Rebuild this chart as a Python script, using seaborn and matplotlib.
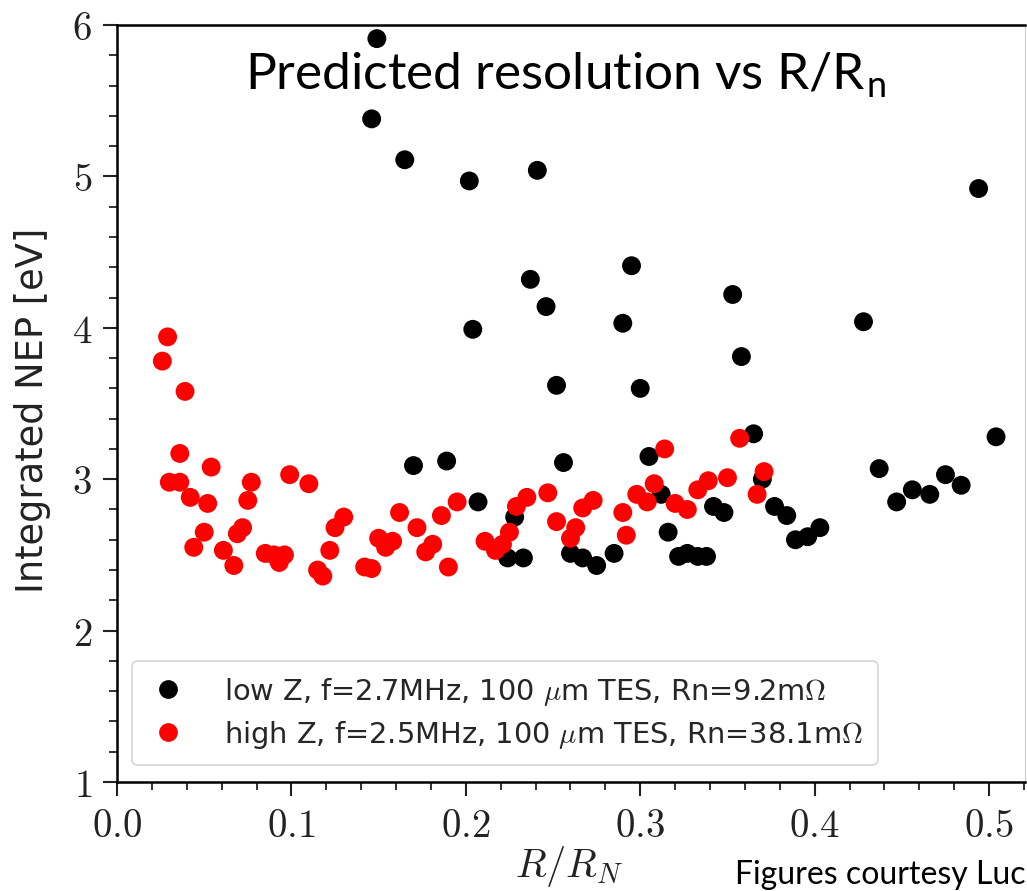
import matplotlib
matplotlib.use("Agg")
import matplotlib.pyplot as plt
import matplotlib.ticker as mticker
from matplotlib.lines import Line2D
import pandas as pd
import seaborn as sns

# low Z, f=2.7MHz (black)
low_x = [0.149, 0.146, 0.165, 0.202, 0.241, 0.204, 0.237, 0.246, 0.295, 0.290,
         0.252, 0.300, 0.353, 0.358, 0.494, 0.428, 0.504, 0.365, 0.170, 0.189,
         0.207, 0.256, 0.305, 0.228, 0.224, 0.233, 0.260, 0.267, 0.275, 0.285,
         0.312, 0.316, 0.322, 0.327, 0.333, 0.338, 0.342, 0.348, 0.370, 0.377,
         0.384, 0.389, 0.396, 0.403, 0.437, 0.447, 0.456, 0.466, 0.475, 0.484]
low_y = [5.91, 5.38, 5.11, 4.97, 5.04, 3.99, 4.32, 4.14, 4.41, 4.03,
         3.62, 3.60, 4.22, 3.81, 4.92, 4.04, 3.28, 3.30, 3.09, 3.12,
         2.85, 3.11, 3.15, 2.75, 2.48, 2.48, 2.51, 2.48, 2.43, 2.51,
         2.90, 2.65, 2.49, 2.51, 2.49, 2.49, 2.82, 2.78, 3.00, 2.82,
         2.76, 2.60, 2.62, 2.68, 3.07, 2.85, 2.93, 2.90, 3.03, 2.96]

# high Z, f=2.5MHz (red)
high_x = [0.029, 0.026, 0.039, 0.036, 0.054, 0.030, 0.036, 0.042, 0.052, 0.077,
          0.075, 0.099, 0.110, 0.050, 0.044, 0.061, 0.067, 0.072, 0.069, 0.085,
          0.090, 0.096, 0.093, 0.115, 0.118, 0.122, 0.125, 0.130, 0.142, 0.146,
          0.150, 0.158, 0.154, 0.162, 0.172, 0.177, 0.181, 0.186, 0.195, 0.190,
          0.211, 0.217, 0.221, 0.225, 0.229, 0.235, 0.247, 0.252, 0.263, 0.260,
          0.267, 0.273, 0.290, 0.292, 0.298, 0.304, 0.308, 0.314, 0.320, 0.327,
          0.333, 0.339, 0.350, 0.357, 0.371, 0.367]
high_y = [3.94, 3.78, 3.58, 3.17, 3.08, 2.98, 2.98, 2.88, 2.84, 2.98,
          2.86, 3.03, 2.97, 2.65, 2.55, 2.53, 2.43, 2.68, 2.64, 2.51,
          2.50, 2.50, 2.45, 2.40, 2.36, 2.53, 2.68, 2.75, 2.42, 2.41,
          2.61, 2.59, 2.55, 2.78, 2.68, 2.52, 2.57, 2.76, 2.85, 2.42,
          2.59, 2.53, 2.57, 2.65, 2.82, 2.88, 2.91, 2.72, 2.68, 2.61,
          2.81, 2.86, 2.78, 2.63, 2.90, 2.85, 2.97, 3.20, 2.84, 2.80,
          2.93, 2.99, 3.01, 3.27, 3.05, 2.90]

series_labels = ["low Z, f=2.7MHz, 100 $\\mu$m TES, Rn=9.2m$\\Omega$",
                 "high Z, f=2.5MHz, 100 $\\mu$m TES, Rn=38.1m$\\Omega$"]
series_colors = ["black", "red"]

df = pd.concat([
    pd.DataFrame({"x": low_x, "y": low_y, "series": series_labels[0]}),
    pd.DataFrame({"x": high_x, "y": high_y, "series": series_labels[1]}),
], ignore_index=True)

sns.set_theme(style="ticks")
plt.rcParams["mathtext.fontset"] = "cm"
plt.rcParams["font.family"] = ["DejaVu Sans"]

fig = plt.figure(figsize=(10.27, 8.91), dpi=100)
ax = fig.add_axes([117 / 1027, 109 / 891, 908 / 1027, 757 / 891])

sns.scatterplot(data=df, x="x", y="y", hue="series",
                palette=dict(zip(series_labels, series_colors)),
                s=185, linewidth=0, legend=False, ax=ax, zorder=3)

ax.set_xlim(0, 0.5206)
ax.set_ylim(1, 6)
ax.set_xlabel("")
ax.set_ylabel("")

ax.xaxis.set_major_locator(mticker.MultipleLocator(0.1))
ax.xaxis.set_minor_locator(mticker.MultipleLocator(0.02))
ax.yaxis.set_major_locator(mticker.MultipleLocator(1))
ax.yaxis.set_minor_locator(mticker.MultipleLocator(0.2))
ax.xaxis.set_major_formatter(mticker.FuncFormatter(lambda v, p: f"${v:.1f}$"))
ax.yaxis.set_major_formatter(mticker.FuncFormatter(lambda v, p: f"${v:.0f}$"))

ax.tick_params(axis="both", which="major", direction="out", length=10,
               width=1.5, labelsize=28, pad=8, colors="#222222")
ax.tick_params(axis="both", which="minor", direction="out", length=5.5,
               width=1.3, colors="#222222")
ax.tick_params(top=False, right=False, which="both")

for side in ["left", "bottom", "top"]:
    ax.spines[side].set_linewidth(1.8)
    ax.spines[side].set_color("black")
ax.spines["right"].set_linewidth(0.8)
ax.spines["right"].set_color("#cccccc")

# legend
handles = [Line2D([], [], marker="o", linestyle="none", markersize=13.5,
                  markerfacecolor=c, markeredgewidth=0) for c in series_colors]
leg = ax.legend(handles, series_labels, loc="lower left",
                bbox_to_anchor=(0.0165, 0.0225), borderaxespad=0,
                fontsize=20.8, frameon=True, handletextpad=1.2,
                handlelength=1.5, labelspacing=0.38, borderpad=0.5)
leg.get_frame().set_edgecolor("#cccccc")
leg.get_frame().set_linewidth(1.2)

fig.text(33 / 1027, (891 - 410) / 891, "Integrated NEP [eV]", rotation=90,
         ha="center", va="center", fontsize=26.5, color="#222222")
fig.text(569 / 1027, 2 / 891, "$R/R_N$", ha="center", va="bottom",
         fontsize=29, color="#222222")

fig.text(565 / 1027, (891 - 89) / 891, "Predicted resolution vs R/R$_\\mathregular{n}$",
         ha="center", va="baseline", fontsize=37, family=["Lato", "DejaVu Sans"],
         color="black")
fig.text(735 / 1027, (891 - 884) / 891, "Figures courtesy Luc", ha="left",
         va="baseline", fontsize=23, family=["Lato", "DejaVu Sans"], color="black")

fig.savefig("out.png", dpi=100, facecolor="white")
